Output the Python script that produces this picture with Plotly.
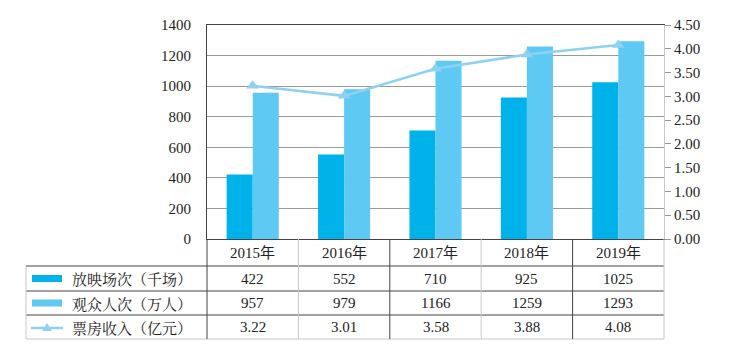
import plotly.graph_objects as go

years = ["2015年", "2016年", "2017年", "2018年", "2019年"]
screenings = [422, 552, 710, 925, 1025]          # 放映场次（千场）
audience = [957, 979, 1166, 1259, 1293]          # 观众人次（万人）
boxoffice = [3.22, 3.01, 3.58, 3.88, 4.08]       # 票房收入（亿元）
boxoffice_labels = ["3.22", "3.01", "3.58", "3.88", "4.08"]
series_names = ["放映场次（千场）", "观众人次（万人）", "票房收入（亿元）"]
left_ticks = [0, 200, 400, 600, 800, 1000, 1200, 1400]
right_ticks = [0, 0.5, 1, 1.5, 2, 2.5, 3, 3.5, 4, 4.5]
right_labels = ["0.00", "0.50", "1.00", "1.50", "2.00", "2.50", "3.00", "3.50", "4.00", "4.50"]

W, H = 740, 351
L, R, T, B = 207, 664, 25, 239
C1, C2, C3 = "#00b2ea", "#5ecaf4", "#8fd2f0"
FONT = "Liberation Serif, Times New Roman, Noto Sans CJK SC, serif"
DARK = "#444444"
LIGHT = "#c8c8c8"


def px(x):
    return (x - L) / (R - L)


def py(y):
    return (B - y) / (B - T)


fig = go.Figure()
fig.add_bar(x=years, y=screenings, name=series_names[0], marker_color=C1,
            marker_line_width=0)
fig.add_bar(x=years, y=audience, name=series_names[1], marker_color=C2,
            marker_line_width=0)
fig.add_scatter(x=years, y=boxoffice, name=series_names[2], yaxis="y2",
                mode="lines+markers", line=dict(color=C3, width=2.5),
                marker=dict(symbol="triangle-up", size=11, color=C3))

fig.update_layout(
    width=W, height=H,
    margin=dict(l=L, r=W - R, t=T, b=H - B),
    paper_bgcolor="white", plot_bgcolor="white",
    showlegend=False,
    barmode="group", bargap=0.43, bargroupgap=0,
    font=dict(family=FONT, size=15, color="#222222"),
    xaxis=dict(showticklabels=False, ticks="", showgrid=False,
               showline=True, linecolor=DARK, linewidth=1, mirror=True,
               zeroline=False),
    yaxis=dict(range=[0, 1400], tickvals=left_ticks, showgrid=True,
               gridcolor="#9a9a9a", gridwidth=1, zeroline=False,
               showline=True, linecolor=DARK, linewidth=1,
               ticks="", ticklabelstandoff=12,
               tickfont=dict(family=FONT, size=15, color="#222")),
    yaxis2=dict(range=[0, 4.5], tickvals=right_ticks, ticktext=right_labels,
                overlaying="y", side="right", showgrid=False, zeroline=False,
                showline=True, linecolor=LIGHT, linewidth=1,
                ticks="outside", ticklen=6, tickcolor="#9a9a9a",
                tickfont=dict(family=FONT, size=15, color="#222")),
)

shapes = []
ann = []

# table rows (pixel y boundaries)
row_y = [239, 266, 291, 315, 339]
col_x_left = 26
for yy, color in [(266, DARK), (291, DARK), (315, DARK), (339, LIGHT)]:
    shapes.append(dict(type="line", xref="paper", yref="paper",
                       x0=px(col_x_left), x1=px(R), y0=py(yy), y1=py(yy),
                       line=dict(color=color, width=1)))
# left border of label column
shapes.append(dict(type="line", xref="paper", yref="paper",
                   x0=px(col_x_left), x1=px(col_x_left), y0=py(266), y1=py(339),
                   line=dict(color=LIGHT, width=1)))
# vertical column separators
col_w = (R - L) / len(years)
for i in range(len(years) + 1):
    xx = L + i * col_w
    color = DARK if i % 2 == 0 else LIGHT
    if i == len(years):
        color = LIGHT
    shapes.append(dict(type="line", xref="paper", yref="paper",
                       x0=px(xx), x1=px(xx), y0=py(239), y1=py(339),
                       line=dict(color=color, width=1)))

row_c = [(row_y[k] + row_y[k + 1]) / 2 for k in range(4)]
rows = [years, [str(v) for v in screenings], [str(v) for v in audience],
        boxoffice_labels]
for r, vals in enumerate(rows):
    for yr, v in zip(years, vals):
        ann.append(dict(x=yr, xref="x", y=py(row_c[r]), yref="paper",
                        text=v, showarrow=False, xanchor="center",
                        yanchor="middle",
                        font=dict(family=FONT, size=15, color="#222")))

# legend symbols + names in label column
for k in range(3):
    yc = py(row_c[k + 1])
    if k < 2:
        shapes.append(dict(type="rect", xref="paper", yref="paper",
                           x0=px(32), x1=px(62), y0=yc - 3.5 / (B - T),
                           y1=yc + 3.5 / (B - T),
                           fillcolor=[C1, C2][k], line=dict(width=0)))
    else:
        shapes.append(dict(type="line", xref="paper", yref="paper",
                           x0=px(31), x1=px(63), y0=yc - 1 / (B - T),
                           y1=yc - 1 / (B - T),
                           line=dict(color=C3, width=2.5)))
        shapes.append(dict(type="path", xref="paper", yref="paper",
                           path="M {} {} L {} {} L {} {} Z".format(
                               px(42), yc - 4 / (B - T), px(52), yc - 4 / (B - T),
                               px(47), yc + 4 / (B - T)),
                           fillcolor=C3, line=dict(width=0)))
    ann.append(dict(x=px(70), xref="paper", y=yc, yref="paper",
                    text=series_names[k], showarrow=False, xanchor="left",
                    yanchor="middle",
                    font=dict(family="Noto Serif CJK SC, Noto Sans CJK SC, serif",
                              size=15, color="#222")))

fig.update_layout(shapes=shapes, annotations=ann)
fig.write_html("out.html")
